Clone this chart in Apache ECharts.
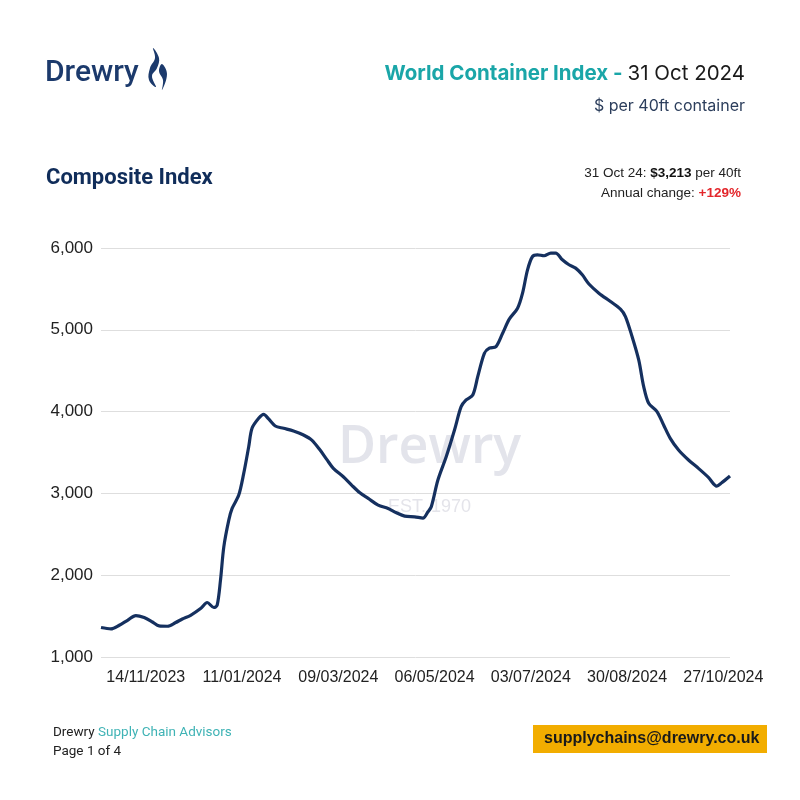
<!DOCTYPE html>
<html>
<head>
<meta charset="utf-8">
<script src="https://cdn.jsdelivr.net/npm/echarts@6/dist/echarts.min.js"></script>
<style>
  html, body { margin: 0; padding: 0; background: #fff; }
  #chart { width: 800px; height: 800px; }
</style>
</head>
<body>
<div id="chart"></div>
<script>
// WCI composite
var dates = [
  '2023-10-18', '2023-10-24', '2023-10-29', '2023-11-03', '2023-11-08', '2023-11-13', '2023-11-18',
  '2023-11-22', '2023-11-27', '2023-12-02', '2023-12-06', '2023-12-11', '2023-12-17', '2023-12-21',
  '2023-12-25', '2023-12-27', '2023-12-29', '2023-12-31', '2024-01-03', '2024-01-05', '2024-01-09',
  '2024-01-12', '2024-01-15', '2024-01-17', '2024-01-21', '2024-01-24', '2024-01-27', '2024-01-31',
  '2024-02-05', '2024-02-11', '2024-02-17', '2024-02-22', '2024-02-27', '2024-03-02', '2024-03-06',
  '2024-03-12', '2024-03-17', '2024-03-22', '2024-03-27', '2024-04-02', '2024-04-08', '2024-04-13',
  '2024-04-18', '2024-04-24', '2024-04-29', '2024-05-02', '2024-05-04', '2024-05-08', '2024-05-13',
  '2024-05-18', '2024-05-22', '2024-05-25', '2024-05-29', '2024-06-01', '2024-06-05', '2024-06-08',
  '2024-06-12', '2024-06-16', '2024-06-20', '2024-06-25', '2024-06-28', '2024-07-01', '2024-07-04',
  '2024-07-07', '2024-07-11', '2024-07-15', '2024-07-18', '2024-07-22', '2024-07-26', '2024-07-30',
  '2024-08-03', '2024-08-07', '2024-08-13', '2024-08-20', '2024-08-26', '2024-08-29', '2024-09-02',
  '2024-09-06', '2024-09-09', '2024-09-12', '2024-09-17', '2024-09-21', '2024-09-25', '2024-09-30',
  '2024-10-06', '2024-10-12', '2024-10-18', '2024-10-23', '2024-10-26', '2024-10-31'
];
var values = [
  1360, 1343, 1388, 1449, 1507, 1482, 1428,
  1380, 1376, 1421, 1465, 1510, 1592, 1666,
  1605, 1633, 1939, 2346, 2673, 2816, 2979,
  3245, 3571, 3796, 3918, 3967, 3910, 3824,
  3796, 3763, 3714, 3652, 3530, 3416, 3306,
  3203, 3102, 3007, 2939, 2857, 2816, 2763,
  2722, 2714, 2698, 2775, 2836, 3163, 3448,
  3775, 4060, 4142, 4203, 4427, 4713, 4775,
  4794, 4958, 5130, 5264, 5448, 5733, 5896,
  5917, 5905, 5938, 5938, 5856, 5795, 5754,
  5672, 5560, 5448, 5345, 5252, 5162, 4917,
  4632, 4305, 4101, 4000, 3836, 3673, 3530,
  3408, 3306, 3196, 3089, 3130, 3213
];
var xTickDates = ['2023-11-14', '2024-01-11', '2024-03-09', '2024-05-06', '2024-07-03', '2024-08-30', '2024-10-27'];
var xRange = ['2023-10-18', '2024-10-31'];

function utc(s) {
  var p = s.split('-');
  return Date.UTC(+p[0], +p[1] - 1, +p[2]);
}
function pad(n) { return n < 10 ? '0' + n : '' + n; }

var navy = '#15305f';
var teal = '#1aa6a8';

let myChart = echarts.init(document.getElementById('chart'));
myChart.setOption({
  backgroundColor: '#fff',
  animation: false,
  grid: { left: 101, right: 70, top: 248, bottom: 143 },
  xAxis: {
    type: 'value',
    min: utc(xRange[0]),
    max: utc(xRange[1]),
    axisLine: { show: false },
    axisTick: { show: false },
    splitLine: { show: false },
    axisLabel: {
      customValues: xTickDates.map(utc),
      color: '#222',
      fontSize: 16,
      fontFamily: 'Liberation Sans',
      margin: 13,
      formatter: function (v) {
        var d = new Date(v);
        return pad(d.getUTCDate()) + '/' + pad(d.getUTCMonth() + 1) + '/' + d.getUTCFullYear();
      }
    }
  },
  yAxis: {
    type: 'value',
    min: 1000,
    max: 6000,
    interval: 1000,
    axisLine: { show: false },
    axisTick: { show: false },
    splitLine: { lineStyle: { color: '#dedede', width: 1 } },
    axisLabel: {
      color: '#222',
      fontSize: 17,
      fontFamily: 'Liberation Sans',
      margin: 8,
      formatter: function (v) { return v.toLocaleString('en-US'); }
    }
  },
  series: [{
    type: 'line',
    data: dates.map(function (d, i) { return [utc(d), values[i]]; }),
    smooth: 0.3,
    symbol: 'none',
    z: 5,
    lineStyle: { color: navy, width: 3.2 }
  }],
  graphic: [
    // logo
    { type: 'text', left: 45, top: 58, style: { text: 'Drewry', font: '500 30px Roboto', fill: '#1c3a6c' } },
    { type: 'polygon', shape: { smooth: 0.4, points: [[153, 48], [159, 58], [157, 68], [152, 76], [156, 87], [149, 80], [150, 68], [155, 58]] }, style: { fill: '#1c3a6c' } },
    { type: 'polygon', shape: { smooth: 0.4, points: [[162, 64], [167, 74], [162, 90], [163, 80], [159, 71]] }, style: { fill: '#1c3a6c' } },
    // header
    {
      type: 'text', right: 55, top: 63,
      style: {
        text: '{a|World Container Index - }{b|31 Oct 2024}',
        rich: {
          a: { font: 'bold 20.5px Inter', fill: teal },
          b: { font: '20.5px Inter', fill: '#1a1a1a' }
        }
      }
    },
    { type: 'text', right: 55, top: 98, style: { text: '$ per 40ft container', font: '16px Inter', fill: '#2c3e5c' } },
    { type: 'text', left: 46, top: 167, style: { text: 'Composite Index', font: 'bold 22px Roboto', fill: '#102d5a' } },
    {
      type: 'text', right: 59, top: 166,
      style: {
        text: '{n|31 Oct 24: }{b|$3,213}{n| per 40ft}',
        rich: {
          n: { font: '13.5px "Liberation Sans"', fill: '#222' },
          b: { font: 'bold 13.5px "Liberation Sans"', fill: '#111' }
        }
      }
    },
    {
      type: 'text', right: 59, top: 186,
      style: {
        text: '{n|Annual change: }{r|+129%}',
        rich: {
          n: { font: '13.5px "Liberation Sans"', fill: '#222' },
          r: { font: 'bold 13.5px "Liberation Sans"', fill: '#e3262b' }
        }
      }
    },
    // watermark
    { type: 'text', z: 1, left: 338, top: 422, style: { text: 'Drewry', font: '600 52px "Open Sans"', fill: '#e3e4eb' } },
    { type: 'text', z: 1, left: 388, top: 498, style: { text: 'EST. 1970', font: '18px "Liberation Sans"', fill: '#e4e4ea' } },
    // footer
    {
      type: 'text', left: 53, top: 726,
      style: {
        text: '{a|Drewry }{b|Supply Chain Advisors}',
        rich: {
          a: { font: '13.5px Roboto', fill: '#222' },
          b: { font: '13.5px Roboto', fill: '#3fb3b5' }
        }
      }
    },
    { type: 'text', left: 53, top: 745, style: { text: 'Page 1 of 4', font: '13.5px Roboto', fill: '#222' } },
    { type: 'rect', shape: { x: 533, y: 725, width: 234, height: 28 }, style: { fill: '#f2ad00' } },
    { type: 'text', left: 544, top: 731, style: { text: 'supplychains@drewry.co.uk', font: 'bold 16px "Liberation Sans"', fill: '#1a1a1a' } }
  ]
});
</script>
</body>
</html>
